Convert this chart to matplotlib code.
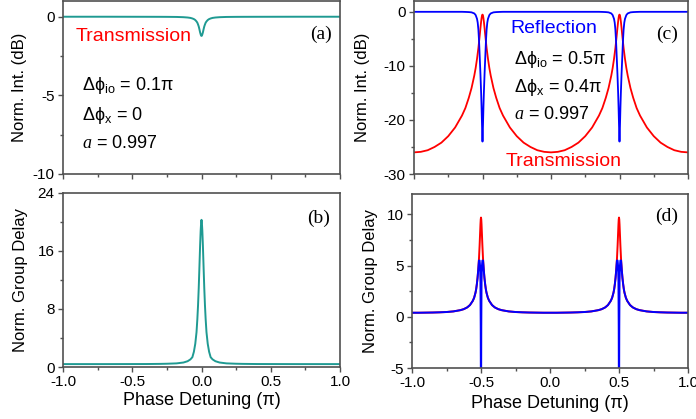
import numpy as np
import matplotlib
matplotlib.use('Agg')
import matplotlib.pyplot as plt
from matplotlib.ticker import MultipleLocator, FormatStrFormatter

plt.rcParams['font.family'] = ['Liberation Sans', 'DejaVu Sans']
plt.rcParams['mathtext.fontset'] = 'custom'
plt.rcParams['mathtext.it'] = 'Liberation Serif:italic'
plt.rcParams['mathtext.rm'] = 'Liberation Sans'
plt.rcParams['mathtext.default'] = 'regular'
plt.rcParams['axes.unicode_minus'] = False

# ---- panel (a)/(b): single resonance at 0 ----
x_ab = [-1.0, -0.7, -0.4, -0.3, -0.25, -0.18, -0.13, -0.1, -0.08, -0.066, -0.055, -0.045,
        -0.036, -0.03, -0.025, -0.02, -0.015, -0.01, -0.006, -0.003, 0.0,
        0.003, 0.006, 0.01, 0.015, 0.02, 0.025, 0.03, 0.036, 0.045, 0.055, 0.066,
        0.08, 0.1, 0.13, 0.18, 0.25, 0.3, 0.4, 0.7, 1.0]
trans_a = [0.0, 0.0, -0.004, -0.006, -0.008, -0.014, -0.03, -0.05, -0.075, -0.11, -0.15, -0.21,
           -0.3, -0.38, -0.49, -0.62, -0.8, -1.0, -1.12, -1.2, -1.22,
           -1.2, -1.12, -1.0, -0.8, -0.62, -0.49, -0.38, -0.3, -0.21, -0.15, -0.11,
           -0.075, -0.05, -0.03, -0.014, -0.008, -0.006, -0.004, 0.0, 0.0]
delay_b = [0.4, 0.4, 0.41, 0.43, 0.45, 0.5, 0.62, 0.8, 1.05, 1.35, 2.1, 3.2,
           4.8, 6.6, 8.5, 10.9, 13.8, 16.8, 18.8, 19.8, 20.3,
           19.8, 18.8, 16.8, 13.8, 10.9, 8.5, 6.6, 4.8, 3.2, 2.1, 1.35,
           1.05, 0.8, 0.62, 0.5, 0.45, 0.43, 0.41, 0.4, 0.4]

# ---- panel (c)/(d): resonances at -0.5 and 0.5 ----
x_cd = [-1.0, -0.95, -0.9, -0.85, -0.8, -0.75, -0.7, -0.65, -0.625, -0.6, -0.58, -0.56,
        -0.55, -0.54, -0.535, -0.53, -0.525, -0.52, -0.515, -0.51, -0.507, -0.504, -0.502, -0.5,
        -0.498, -0.496, -0.493, -0.49, -0.485, -0.48, -0.475, -0.47, -0.465, -0.46, -0.45, -0.44,
        -0.42, -0.4, -0.375, -0.35, -0.3, -0.25, -0.2, -0.15, -0.1, -0.05, 0.0,
        0.05, 0.1, 0.15, 0.2, 0.25, 0.3, 0.35, 0.375, 0.4, 0.42, 0.44, 0.45,
        0.46, 0.465, 0.47, 0.475, 0.48, 0.485, 0.49, 0.493, 0.496, 0.498, 0.5,
        0.502, 0.504, 0.507, 0.51, 0.515, 0.52, 0.525, 0.53, 0.535, 0.54, 0.55, 0.56,
        0.58, 0.6, 0.625, 0.65, 0.7, 0.75, 0.8, 0.85, 0.9, 0.95, 1.0]

trans_c = [-26.0, -25.9, -25.6, -25.0, -24.2, -23.0, -21.4, -19.2, -17.8, -15.9, -14.1, -11.8,
           -10.4, -8.7, -7.7, -6.7, -5.5, -4.3, -3.0, -1.8, -1.2, -0.74, -0.57, -0.51,
           -0.57, -0.74, -1.2, -1.8, -3.0, -4.3, -5.5, -6.7, -7.7, -8.7, -10.4, -11.8,
           -14.1, -15.9, -17.8, -19.2, -21.4, -23.0, -24.2, -25.0, -25.6, -25.9, -26.0,
           -25.9, -25.6, -25.0, -24.2, -23.0, -21.4, -19.2, -17.8, -15.9, -14.1, -11.8, -10.4,
           -8.7, -7.7, -6.7, -5.5, -4.3, -3.0, -1.8, -1.2, -0.74, -0.57, -0.51,
           -0.57, -0.74, -1.2, -1.8, -3.0, -4.3, -5.5, -6.7, -7.7, -8.7, -10.4, -11.8,
           -14.1, -15.9, -17.8, -19.2, -21.4, -23.0, -24.2, -25.0, -25.6, -25.9, -26.0]
refl_c = [0.0, 0.0, 0.0, 0.0, 0.0, 0.0, 0.0, 0.0, -0.02, -0.05, -0.1, -0.3,
          -0.6, -1.3, -2.0, -3.3, -5.5, -8.5, -11.5, -15.0, -17.5, -20.5, -22.5, -24.0,
          -22.5, -20.5, -17.5, -15.0, -11.5, -8.5, -5.5, -3.3, -2.0, -1.3, -0.6, -0.3,
          -0.1, -0.05, -0.02, 0.0, 0.0, 0.0, 0.0, 0.0, 0.0, 0.0, 0.0,
          0.0, 0.0, 0.0, 0.0, 0.0, 0.0, 0.0, -0.02, -0.05, -0.1, -0.3, -0.6,
          -1.3, -2.0, -3.3, -5.5, -8.5, -11.5, -15.0, -17.5, -20.5, -22.5, -24.0,
          -22.5, -20.5, -17.5, -15.0, -11.5, -8.5, -5.5, -3.3, -2.0, -1.3, -0.6, -0.3,
          -0.1, -0.05, -0.02, 0.0, 0.0, 0.0, 0.0, 0.0, 0.0, 0.0, 0.0]

delay_trans_d = [0.4, 0.4, 0.41, 0.42, 0.44, 0.47, 0.53, 0.65, 0.75, 0.92, 1.15, 1.55,
                 1.85, 2.35, 2.7, 3.2, 3.8, 4.6, 5.6, 7.0, 8.0, 9.0, 9.5, 9.7,
                 9.5, 9.0, 8.0, 7.0, 5.6, 4.6, 3.8, 3.2, 2.7, 2.35, 1.85, 1.55,
                 1.15, 0.92, 0.75, 0.65, 0.53, 0.47, 0.44, 0.42, 0.41, 0.4, 0.4,
                 0.4, 0.41, 0.42, 0.44, 0.47, 0.53, 0.65, 0.75, 0.92, 1.15, 1.55, 1.85,
                 2.35, 2.7, 3.2, 3.8, 4.6, 5.6, 7.0, 8.0, 9.0, 9.5, 9.7,
                 9.5, 9.0, 8.0, 7.0, 5.6, 4.6, 3.8, 3.2, 2.7, 2.35, 1.85, 1.55,
                 1.15, 0.92, 0.75, 0.65, 0.53, 0.47, 0.44, 0.42, 0.41, 0.4, 0.4]
delay_refl_d = [0.4, 0.4, 0.41, 0.42, 0.44, 0.47, 0.53, 0.65, 0.75, 0.92, 1.15, 1.55,
                1.85, 2.35, 2.7, 3.2, 3.8, 4.6, 5.5, 5.5, 5.0, 3.5, -1.0, -12.0,
                -1.0, 3.5, 5.0, 5.5, 5.5, 4.6, 3.8, 3.2, 2.7, 2.35, 1.85, 1.55,
                1.15, 0.92, 0.75, 0.65, 0.53, 0.47, 0.44, 0.42, 0.41, 0.4, 0.4,
                0.4, 0.41, 0.42, 0.44, 0.47, 0.53, 0.65, 0.75, 0.92, 1.15, 1.55, 1.85,
                2.35, 2.7, 3.2, 3.8, 4.6, 5.5, 5.5, 5.0, 3.5, -1.0, -12.0,
                -1.0, 3.5, 5.0, 5.5, 5.5, 4.6, 3.8, 3.2, 2.7, 2.35, 1.85, 1.55,
                1.15, 0.92, 0.75, 0.65, 0.53, 0.47, 0.44, 0.42, 0.41, 0.4, 0.4]

teal = '#1f9a92'
red = '#ff0000'
blue = '#0000ff'
W, H = 696., 419.


def box(l, t, r, b):
    return [l / W, 1 - b / H, (r - l) / W, (b - t) / H]


def style(ax, ymaj, ymin, xlabels):
    ax.set_xlim(-1, 1)
    ax.xaxis.set_major_locator(MultipleLocator(0.5))
    ax.xaxis.set_minor_locator(MultipleLocator(0.25))
    ax.xaxis.set_major_formatter(FormatStrFormatter('%.1f'))
    ax.yaxis.set_major_locator(MultipleLocator(ymaj))
    ax.yaxis.set_minor_locator(MultipleLocator(ymin))
    for s in ax.spines.values():
        s.set_color('#505050')
        s.set_linewidth(1.2)
    ax.tick_params(which='both', direction='out', color='#505050', labelsize=11, pad=2.5,
                   top=False, right=False)
    ax.tick_params(which='major', length=3.5, width=1)
    ax.tick_params(which='minor', length=2, width=1)
    if not xlabels:
        ax.tick_params(axis='x', labelbottom=False)


fig = plt.figure(figsize=(6.96, 4.19), dpi=100)

# (a)
ax = fig.add_axes(box(63, 1, 340, 174))
ax.plot(x_ab, trans_a, color=teal, lw=1.4)
ax.set_ylim(-10, 1)
style(ax, 5, 2.5, False)
ax.set_ylabel('Norm. Int. (dB)', fontsize=12)
ax.yaxis.set_label_coords(-0.13, 0.5)
ax.text(0.047, 0.797, 'Transmission', color=red, fontsize=14, transform=ax.transAxes, va='center')
ax.text(0.971, 0.809, '(a)', family='Liberation Serif', fontsize=14, transform=ax.transAxes,
        ha='right', va='center')
ax.text(0.068, 0.509, 'Δϕ$_{io}$ = 0.1π', fontsize=13, transform=ax.transAxes, va='center')
ax.text(0.068, 0.341, 'Δϕ$_{x}$ = 0', fontsize=13, transform=ax.transAxes, va='center')
ax.text(0.068, 0.179, '$\\mathit{a}$ = 0.997', fontsize=13, transform=ax.transAxes, va='center')

# (b)
ax = fig.add_axes(box(63, 193, 340, 367))
ax.plot(x_ab, delay_b, color=teal, lw=1.4)
ax.set_ylim(0, 24)
style(ax, 8, 4, True)
ax.set_ylabel('Norm. Group Delay', fontsize=12)
ax.yaxis.set_label_coords(-0.126, 0.5)
ax.set_xlabel('Phase Detuning (π)', fontsize=13)
ax.xaxis.set_label_coords(0.5, -0.144)
ax.text(0.964, 0.855, '(b)', family='Liberation Serif', fontsize=14, transform=ax.transAxes,
        ha='right', va='center')

# (c)
ax = fig.add_axes(box(414, 1, 688, 174))
ax.plot(x_cd, trans_c, color=red, lw=1.3)
ax.plot(x_cd, refl_c, color=blue, lw=1.3)
ax.set_ylim(-30, 2)
style(ax, 10, 5, False)
ax.set_ylabel('Norm. Int. (dB)', fontsize=12)
ax.yaxis.set_label_coords(-0.16, 0.5)
ax.text(0.353, 0.842, 'Reflection', color=blue, fontsize=14, transform=ax.transAxes, va='center')
ax.text(0.336, 0.071, 'Transmission', color=red, fontsize=14, transform=ax.transAxes, va='center')
ax.text(0.965, 0.807, '(c)', family='Liberation Serif', fontsize=14, transform=ax.transAxes,
        ha='right', va='center')
ax.text(0.365, 0.659, 'Δϕ$_{io}$ = 0.5π', fontsize=13, transform=ax.transAxes, va='center')
ax.text(0.365, 0.5, 'Δϕ$_{x}$ = 0.4π', fontsize=13, transform=ax.transAxes, va='center')
ax.text(0.365, 0.345, '$\\mathit{a}$ = 0.997', fontsize=13, transform=ax.transAxes, va='center')

# (d)
ax = fig.add_axes(box(412, 194, 688, 368))
ax.plot(x_cd, delay_trans_d, color=red, lw=1.4)
ax.plot(x_cd, delay_refl_d, color=blue, lw=1.4)
ax.set_ylim(-5, 12)
style(ax, 5, 2.5, True)
ax.set_ylabel('Norm. Group Delay', fontsize=12)
ax.yaxis.set_label_coords(-0.123, 0.5)
ax.set_xlabel('Phase Detuning (π)', fontsize=13)
ax.xaxis.set_label_coords(0.5, -0.155)
ax.text(0.965, 0.87, '(d)', family='Liberation Serif', fontsize=14, transform=ax.transAxes,
        ha='right', va='center')

fig.savefig('out.png', dpi=100)
